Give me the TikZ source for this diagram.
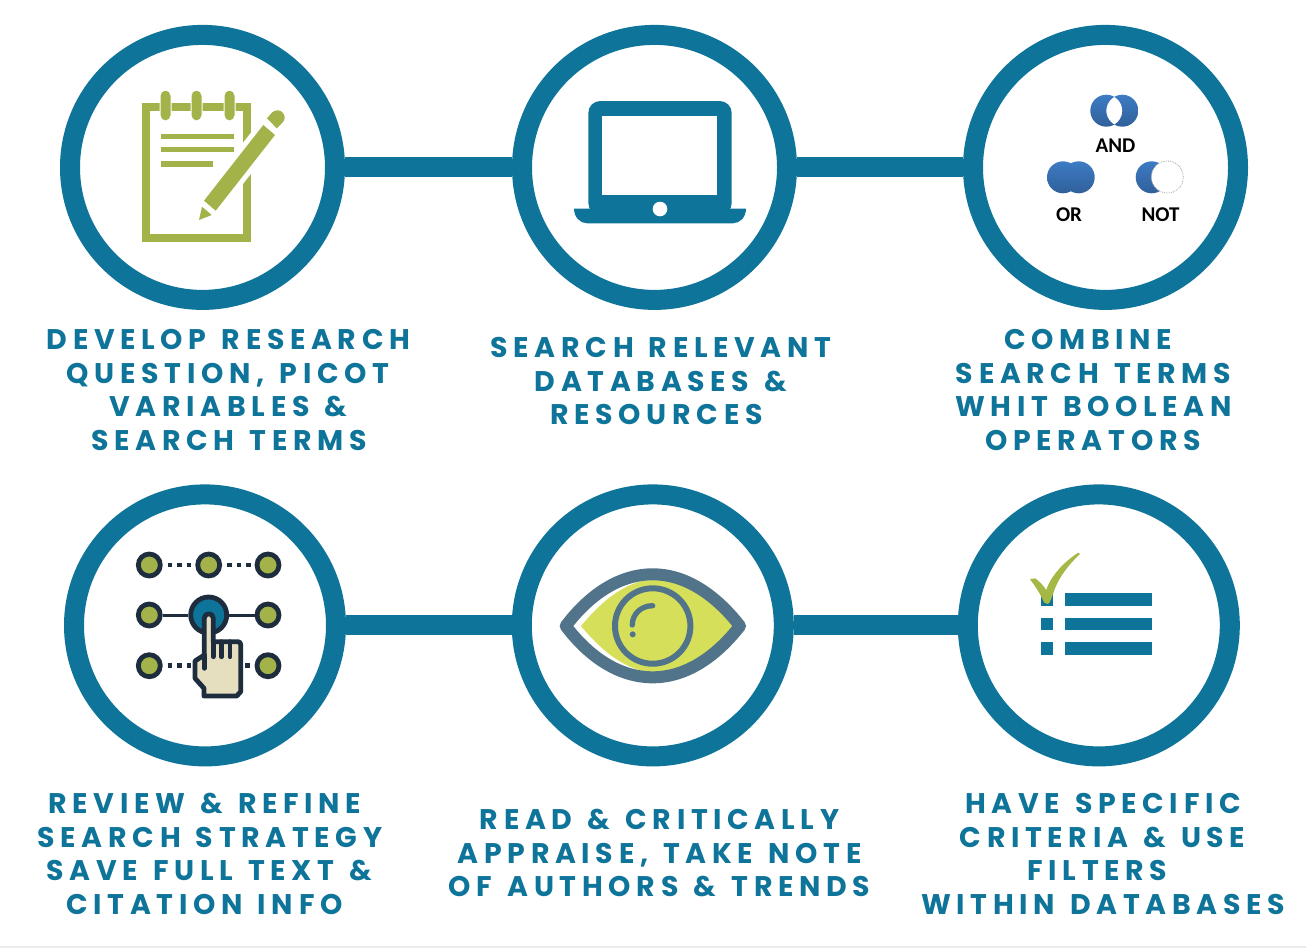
\documentclass[tikz,border=0pt]{standalone}
\usepackage{fontspec}
\newfontfamily\labelfont{Poppins}[LetterSpace=20,WordSpace=1.3]
\newfontfamily\vennfont{Carlito}
\usetikzlibrary{calc,positioning}
\definecolor{tealring}{HTML}{0E7499}
\definecolor{padgreen}{HTML}{A3B34A}
\definecolor{tickgreen}{HTML}{A3B845}
\definecolor{darknavy}{HTML}{1E2D3D}
\definecolor{handcream}{HTML}{E6DFBF}
\definecolor{eyeslate}{HTML}{52748A}
\definecolor{eyeyellow}{HTML}{D6DF5A}
\definecolor{venntop}{HTML}{3D7BC4}
\definecolor{vennbottom}{HTML}{30609A}
\tikzset{
    ringnode/.style={circle, draw=tealring, line width=20pt, inner sep=0pt, minimum size=#1},
    linkline/.style={tealring, line width=20pt},
    steplabel/.style={font=\labelfont\bfseries\fontsize{28.4}{30}\selectfont, text=tealring, inner sep=0pt, text height=20pt, text depth=0pt},
    venntext/.style={font=\vennfont\bfseries\fontsize{21}{24}\selectfont, text=black, inner sep=0pt},
    padline/.style={fill=padgreen},
    dotnode/.style={circle, draw=darknavy, fill=padgreen, line width=4.8pt, inner sep=0pt, minimum size=22pt},
    dotline/.style={darknavy, line width=4.5pt, dash pattern=on 4.7pt off 4.7pt, shorten <=5pt},
    solidline/.style={darknavy, line width=3pt},
    handline/.style={darknavy, line width=4.8pt, line join=round, line cap=round}
}

\begin{document}
\begin{tikzpicture}[x=1pt, y=-1pt, line join=round]
    \useasboundingbox (0,0) rectangle (1306,948);
    \fill[white] (0,0) rectangle (1306,948);
    \fill[black!8] (0,946) rectangle (1306,948);

    % rings and links
    \node[ringnode=265pt] (develop) at (202.5,167.4) {};
    \node[ringnode=265pt] (databases) at (654.5,167.4) {};
    \node[ringnode=265pt] (combine) at (1105.5,167.4) {};
    \node[ringnode=262pt] (refine) at (205,625.4) {};
    \node[ringnode=262pt] (appraise) at (652.8,625.4) {};
    \node[ringnode=262pt] (criteria) at (1098.8,625.4) {};
    \draw[linkline] (develop) -- (databases);
    \draw[linkline] (databases) -- (combine);
    \draw[linkline] (refine) -- (appraise);
    \draw[linkline] (appraise) -- (criteria);

    % notepad
    \draw[padgreen, line width=8pt, line join=miter] (146,107) rectangle (247,238);
    \foreach \x in {165.5,196.5,229.5}
        \filldraw[padgreen, draw=white, line width=1pt, rounded corners=5.5pt] ({\x-5.5},90) rectangle ({\x+5.5},121);
    \fill[padline] (161,133.5) rectangle (234,138.5);
    \fill[padline] (161,147) rectangle (234,152);
    \fill[padline] (161,161) rectangle (213,167);
    \draw[white, line width=10pt] (263.3,125) -- (275,135) -- (215.7,210.7) -- (204,200.7) -- cycle;
    \fill[padline] (263.3,125) -- (275,135) -- (215.7,210.7) -- (204,200.7) -- cycle;
    \fill[padline] (267,118.3) -- (272,112.5) .. controls (276,109) and (281,110) .. (283,113) .. controls (285.5,116) and (285,120) .. (283,122) -- (276.7,128.3) -- cycle;
    \fill[padline] (202,206.7) -- (211.7,215) -- (199,220) -- cycle;

    % laptop
    \fill[tealring, rounded corners=12pt] (588.3,101) rectangle (731.7,215);
    \fill[white] (602.3,115.7) rectangle (717.3,194.7);
    \fill[tealring] (574,208.5) -- (746,208.5) .. controls (746,217) and (740,223.3) .. (733,223.3) -- (587,223.3) .. controls (580,223.3) and (574,217) .. (574,208.5) -- cycle;
    \fill[white] (660,209) circle (7.3pt);

    % venn icons
    \path[even odd rule, top color=venntop, bottom color=vennbottom] (1106.3,110.7) circle (16pt) (1122.3,110.7) circle (16pt);
    \node[venntext] (andtext) at (1115.5,145.7) {AND};
    \path[top color=venntop, bottom color=vennbottom] (1063,177.3) circle (16pt) (1078.7,177.3) circle (16pt);
    \node[venntext] (ortext) at (1069,214.6) {OR};
    \path[top color=venntop, bottom color=vennbottom] (1151.7,177.3) circle (16pt);
    \filldraw[fill=white, draw=black!35, densely dotted, line width=0.8pt] (1167.3,177) circle (16pt);
    \node[venntext] (nottext) at (1160.5,214.5) {NOT};

    % pattern of dots with hand
    \node[dotnode] (dotAa) at (149.3,565) {};
    \node[dotnode] (dotAb) at (208.7,565) {};
    \node[dotnode] (dotAc) at (268,565) {};
    \node[dotnode] (dotBa) at (149.3,615) {};
    \node[dotnode, fill=tealring, minimum size=36pt] (dotBb) at (208.7,615) {};
    \node[dotnode] (dotBc) at (268,615) {};
    \node[dotnode] (dotCa) at (149.3,665.7) {};
    \node[dotnode] (dotCc) at (268,665.7) {};
    \coordinate (handleft) at (196,665.7);
    \coordinate (handright) at (240,665.7);
    \draw[dotline] (dotAa) -- (dotAb);
    \draw[dotline] (dotAb) -- (dotAc);
    \draw[solidline] (dotBa) -- (dotBb);
    \draw[solidline] (dotBb) -- (dotBc);
    \draw[dotline] (dotCa) -- (handleft);
    \draw[dotline] (dotCc) -- (handright);
    \filldraw[handline, fill=handcream] (204.3,618.3) .. controls (204.3,612.3) and (213.3,612.3) .. (213.3,618.3) -- (213.3,641.7) -- (238,641.7) .. controls (240,641.7) and (240.7,643) .. (240.7,645) -- (240.7,691.7) -- (236.7,696) -- (204,696) -- (204,688.3) -- (195,678.3) -- (195,661) -- (204.3,655) -- cycle;
    \draw[handline] (204.3,655) -- (204.3,668.3);
    \draw[handline] (213.3,641.7) -- (213.3,656.7);
    \draw[handline] (221.5,641.7) -- (221.5,656.7);
    \draw[handline] (230,641.7) -- (230,656.7);

    % eye
    \fill[eyeyellow] (581,626) .. controls (605,597) and (630,579) .. (658,579) .. controls (690,579) and (715,600) .. (733.3,626) .. controls (715,652) and (690,672.7) .. (658,672.7) .. controls (630,672.7) and (605,655) .. (581,626) -- cycle;
    \draw[eyeslate, line width=12pt] (565.7,626) .. controls (590,594) and (620,574.3) .. (652.7,574.3) .. controls (685,574.3) and (715,594) .. (740,626) .. controls (715,658) and (685,677.3) .. (652.7,677.3) .. controls (620,677.3) and (590,658) .. (565.7,626) -- cycle;
    \draw[eyeslate, line width=6pt] (652.7,626) circle (37.7pt);
    \draw[eyeslate, line width=5.3pt, line cap=round] (652.7,605.7) .. controls (641,605.7) and (632.3,614) .. (632.3,625);
    \fill[eyeslate] (632.7,634.3) circle (3pt);

    % checklist
    \foreach \y in {593.3,617.7,642.3} {
        \fill[tealring] (1065,\y) rectangle (1151.7,{\y+12.2});
        \fill[tealring] (1040.7,\y) rectangle (1052.7,{\y+12.2});
    }
    \fill[tickgreen] (1030,579.3) -- (1035,578.3) .. controls (1039,581) and (1043,585) .. (1046.2,590) .. controls (1050,578) and (1062,563) .. (1078.3,552.7) -- (1080,554) .. controls (1068,565) and (1057,580) .. (1053.3,593.3) -- (1050,601.7) .. controls (1049,604.5) and (1046,604.5) .. (1044,602.5) .. controls (1041,595) and (1036,587) .. (1030,579.3) -- cycle;

    % labels
    \node[steplabel] (developA) at (228.5,339) {DEVELOP RESEARCH};
    \node[steplabel] (developB) at (228,373) {QUESTION, PICOT};
    \node[steplabel] (developC) at (228.5,406) {VARIABLES \&};
    \node[steplabel] (developD) at (229,440) {SEARCH TERMS};
    \node[steplabel] (databasesA) at (661,347) {SEARCH RELEVANT};
    \node[steplabel] (databasesB) at (661,381) {DATABASES \&};
    \node[steplabel] (databasesC) at (656.5,414) {RESOURCES};
    \node[steplabel] (combineA) at (1088,339) {COMBINE};
    \node[steplabel] (combineB) at (1093.5,373) {SEARCH TERMS};
    \node[steplabel] (combineC) at (1093.5,406) {WHIT BOOLEAN};
    \node[steplabel] (combineD) at (1093,440) {OPERATORS};
    \node[steplabel] (refineA) at (205,803) {REVIEW \& REFINE};
    \node[steplabel] (refineB) at (210,837) {SEARCH STRATEGY};
    \node[steplabel] (refineC) at (209.5,870) {SAVE FULL TEXT \&};
    \node[steplabel] (refineD) at (204.5,904) {CITATION INFO};
    \node[steplabel] (appraiseA) at (659.5,819) {READ \& CRITICALLY};
    \node[steplabel] (appraiseB) at (659.5,853) {APPRAISE, TAKE NOTE};
    \node[steplabel] (appraiseC) at (659.5,886) {OF AUTHORS \& TRENDS};
    \node[steplabel] (criteriaA) at (1103,803) {HAVE SPECIFIC};
    \node[steplabel] (criteriaB) at (1102.5,837) {CRITERIA \& USE};
    \node[steplabel] (criteriaC) at (1097.5,870) {FILTERS};
    \node[steplabel] (criteriaD) at (1103,904) {WITHIN DATABASES};
\end{tikzpicture}
\end{document}
